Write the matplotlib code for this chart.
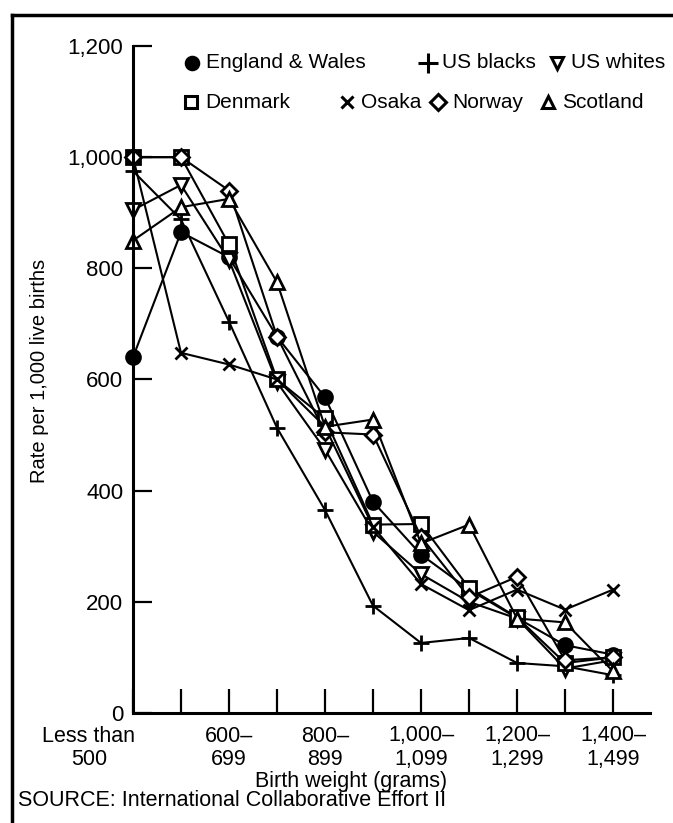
import matplotlib
matplotlib.use("Agg")
import matplotlib.pyplot as plt
import matplotlib.transforms as mtransforms
from matplotlib.lines import Line2D

plt.rcParams['font.family'] = ['Liberation Sans', 'DejaVu Sans']

# birth weight groups (grams)
weights = ['Less than\n500', '500–\n599', '600–\n699', '700–\n799', '800–\n899', '900–\n999',
           '1,000–\n1,099', '1,100–\n1,199', '1,200–\n1,299', '1,300–\n1,399', '1,400–\n1,499']

england_wales = [640, 865, 820, 677, 568, 380, 285, 222, 171, 122, 105]
us_blacks = [975, 888, 704, 513, 365, 193, 126, 135, 90, 84, 68]
us_whites = [905, 950, 815, 595, 474, 326, 250, 200, 170, 80, 95]
denmark = [1000, 1000, 843, 600, 530, 339, 340, 225, 172, 90, 100]
osaka = [1000, 648, 627, 600, 515, 335, 232, 185, 222, 186, 222]
norway = [1000, 1000, 940, 677, 505, 501, 317, 208, 245, 95, 100]
scotland = [850, 910, 925, 775, 515, 528, 305, 339, 170, 163, 75]

series = [
    ('England & Wales', england_wales, 'o', 'black'),
    ('US blacks', us_blacks, '+', 'black'),
    ('US whites', us_whites, 'v', 'white'),
    ('Denmark', denmark, 's', 'white'),
    ('Osaka', osaka, 'x', 'black'),
    ('Norway', norway, 'D', 'white'),
    ('Scotland', scotland, '^', 'white'),
]

W, H = 673, 823
fig = plt.figure(figsize=(W / 100, H / 100), dpi=100)
ax = fig.add_axes([133 / W, 1 - 713 / H, (650 - 133) / W, (713 - 46) / H])

x = list(range(len(weights)))
for name, vals, mk, fc in series:
    ms = {'D': 8, '+': 12, 'x': 9}.get(mk, 10)
    ax.plot(x, vals, color='black', lw=1.5, marker=mk, ms=ms, mfc=fc, mec='black',
            mew=2, clip_on=False)

ax.set_xlim(0, 10.77)
ax.set_ylim(0, 1200)
for s in ['top', 'right']:
    ax.spines[s].set_visible(False)
for s in ['left', 'bottom']:
    ax.spines[s].set_linewidth(2.2)

yt = [0, 200, 400, 600, 800, 1000, 1200]
ax.set_yticks(yt)
ax.set_yticklabels(['{:,}'.format(v) for v in yt])
ax.set_xticks(x)
ax.set_xticklabels([w if i % 2 == 0 else '' for i, w in enumerate(weights)], linespacing=1.15)
ax.tick_params(axis='y', direction='in', length=14, width=1.6, pad=7, labelsize=16)
ax.tick_params(axis='x', direction='in', length=17, width=1.6, pad=9, labelsize=15.5)

# first label sits left of the axis
lbl = ax.get_xticklabels()[0]
lbl.set_transform(lbl.get_transform() + mtransforms.ScaledTranslation(-44 / 100, 0, fig.dpi_scale_trans))

fig.text(40 / W, 1 - 371 / H, 'Rate per 1,000 live births', rotation=90, ha='center', va='center', fontsize=14.5)
fig.text(351 / W, 1 - 781 / H, 'Birth weight (grams)', ha='center', va='center', fontsize=15.5)
fig.text(18 / W, 1 - 801 / H, 'SOURCE: International Collaborative Effort II', ha='left', va='center', fontsize=15.5)

# legend laid out in two rows like the original
legend_pos = [(192, 63), (428, 63), (557, 63), (191, 102), (347, 102), (438, 102), (548, 102)]
for (name, vals, mk, fc), (px, py) in zip(series, legend_pos):
    ms = {'D': 8, '+': 14, 'x': 9}.get(mk, 9)
    fig.add_artist(Line2D([px / W], [1 - py / H], transform=fig.transFigure, marker=mk, ms=ms,
                          mfc=fc, mec='black', mew=2.2, color='black', ls='none'))
    fig.text((px + 14) / W, 1 - py / H, name, ha='left', va='center', fontsize=15)

# frame around the figure
fig.add_artist(Line2D([12 / W, 1], [1 - 15 / H] * 2, transform=fig.transFigure, color='black', lw=2.5))
fig.add_artist(Line2D([12 / W] * 2, [0, 1 - 15 / H], transform=fig.transFigure, color='black', lw=2.5))

fig.savefig('out.png', dpi=100)
